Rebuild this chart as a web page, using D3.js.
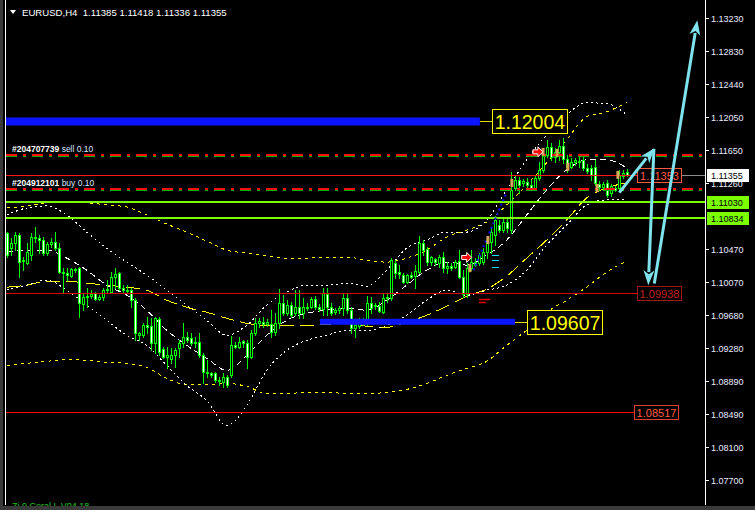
<!DOCTYPE html>
<html><head><meta charset="utf-8">
<script src="https://cdn.jsdelivr.net/npm/d3@7"></script>
<style>html,body{margin:0;padding:0;background:#000;overflow:hidden}</style>
</head><body>
<svg id="c" width="755" height="510"></svg>
<script>
// ---------------- DATA ----------------
const symbolTitle = "EURUSD,H4";
const headerValues = ["1.11385", "1.11418", "1.11336", "1.11355"];
const indicatorName = "Zi 9 Coral L V04.18";

// candles: [open, high, low, close]
const ohlc = [
[1.10656,1.10668,1.10368,1.10392],[1.10476,1.10596,1.10392,1.10536],[1.10536,1.10668,1.10452,1.10632],[1.10632,1.10656,1.10128,1.10308],
[1.10320,1.10368,1.10212,1.10332],[1.10296,1.10536,1.10284,1.10428],[1.10392,1.10656,1.10332,1.10608],[1.10608,1.10728,1.10548,1.10596],
[1.10596,1.10632,1.10416,1.10572],[1.10572,1.10608,1.10392,1.10416],[1.10416,1.10548,1.10392,1.10524],[1.10524,1.10596,1.10488,1.10548],
[1.10548,1.10668,1.10452,1.10476],[1.10476,1.10536,1.10176,1.10188],[1.10188,1.10236,1.09948,1.10176],[1.10176,1.10236,1.10092,1.10152],
[1.10140,1.10236,1.10128,1.10224],[1.10224,1.10236,1.10188,1.10212],[1.10236,1.10248,1.09648,1.09816],[1.09804,1.09936,1.09732,1.09888],
[1.09888,1.09996,1.09768,1.09900],[1.09900,1.09972,1.09876,1.09924],[1.09936,1.09948,1.09852,1.09864],[1.09864,1.09912,1.09852,1.09888],
[1.09888,1.09996,1.09852,1.09972],[1.09972,1.10092,1.09936,1.09984],[1.09948,1.10188,1.09936,1.10128],[1.10128,1.10236,1.09996,1.10164],
[1.10176,1.10188,1.09972,1.09996],[1.09996,1.10032,1.09948,1.09972],[1.09972,1.10032,1.09936,1.09960],[1.09972,1.09996,1.09768,1.09852],
[1.09852,1.09876,1.09372,1.09456],[1.09432,1.09468,1.09372,1.09456],[1.09432,1.09576,1.09408,1.09552],[1.09552,1.09648,1.09456,1.09528],
[1.09540,1.09636,1.09252,1.09336],[1.09336,1.09648,1.09216,1.09636],[1.09624,1.09648,1.09192,1.09228],[1.09264,1.09288,1.09156,1.09168],
[1.09168,1.09288,1.09036,1.09192],[1.09144,1.09276,1.09096,1.09192],[1.09192,1.09276,1.09048,1.09252],[1.09276,1.09372,1.09168,1.09336],
[1.09336,1.09576,1.09288,1.09408],[1.09408,1.09468,1.09348,1.09372],[1.09396,1.09456,1.09312,1.09336],[1.09336,1.09408,1.09288,1.09348],
[1.09348,1.09456,1.09168,1.09192],[1.09192,1.09216,1.08856,1.08988],[1.08988,1.09132,1.08928,1.08976],[1.08976,1.08988,1.08928,1.08952],
[1.08976,1.08988,1.08868,1.08892],[1.08892,1.08928,1.08832,1.08880],[1.08868,1.08976,1.08808,1.08928],[1.08928,1.08952,1.08808,1.08832],
[1.08952,1.09420,1.08928,1.09312],[1.09312,1.09348,1.09276,1.09288],[1.09288,1.09408,1.09276,1.09348],[1.09360,1.09372,1.09288,1.09336],
[1.09336,1.09372,1.09036,1.09168],[1.09168,1.09492,1.09156,1.09456],[1.09456,1.09636,1.09432,1.09576],[1.09576,1.09636,1.09528,1.09600],
[1.09588,1.09648,1.09528,1.09564],[1.09564,1.09624,1.09540,1.09588],[1.09564,1.09732,1.09408,1.09468],[1.09468,1.09696,1.09432,1.09576],
[1.09576,1.09984,1.09516,1.09816],[1.09816,1.09912,1.09672,1.09696],[1.09696,1.09852,1.09672,1.09792],[1.09792,1.09828,1.09648,1.09672],
[1.09696,1.09972,1.09672,1.09768],[1.09768,1.09972,1.09636,1.09696],[1.09696,1.09876,1.09636,1.09768],[1.09768,1.09816,1.09732,1.09756],
[1.09768,1.09888,1.09756,1.09864],[1.09864,1.09900,1.09744,1.09768],[1.09768,1.09804,1.09720,1.09744],[1.09744,1.09996,1.09672,1.09936],
[1.09924,1.09996,1.09672,1.09768],[1.09768,1.09816,1.09672,1.09696],[1.09708,1.09756,1.09684,1.09732],[1.09732,1.09780,1.09696,1.09756],
[1.09756,1.09936,1.09672,1.09876],[1.09876,1.09936,1.09696,1.09732],[1.09732,1.09768,1.09456,1.09516],[1.09516,1.09612,1.09408,1.09552],
[1.09540,1.09636,1.09516,1.09612],[1.09600,1.09636,1.09552,1.09588],[1.09576,1.09900,1.09552,1.09816],[1.09816,1.09888,1.09696,1.09756],
[1.09780,1.09816,1.09744,1.09792],[1.09780,1.09828,1.09708,1.09720],[1.09708,1.09924,1.09696,1.09876],[1.09876,1.09924,1.09828,1.09888],
[1.09876,1.10356,1.09852,1.10332],[1.10296,1.10332,1.10116,1.10176],[1.10188,1.10272,1.10116,1.10164],[1.10152,1.10176,1.10056,1.10068],
[1.10068,1.10164,1.10056,1.10152],[1.10152,1.10188,1.10116,1.10128],[1.10140,1.10272,1.09996,1.10200],[1.10188,1.10620,1.10176,1.10536],
[1.10536,1.10572,1.10392,1.10452],[1.10464,1.10488,1.10272,1.10308],[1.10308,1.10380,1.10272,1.10368],[1.10344,1.10356,1.10272,1.10308],
[1.10296,1.10392,1.10248,1.10368],[1.10368,1.10428,1.10188,1.10236],[1.10236,1.10308,1.10176,1.10260],[1.10260,1.10296,1.10212,1.10236],
[1.10248,1.10332,1.10236,1.10308],[1.10320,1.10452,1.10116,1.10128],[1.10128,1.10212,1.09888,1.09924],[1.09924,1.10296,1.09888,1.10236],
[1.10236,1.10452,1.10212,1.10308],[1.10308,1.10356,1.10260,1.10272],[1.10296,1.10416,1.10272,1.10392],[1.10308,1.10476,1.10284,1.10428],
[1.10428,1.10620,1.10356,1.10572],[1.10548,1.10716,1.10416,1.10668],[1.10632,1.10860,1.10512,1.10812],[1.10752,1.10812,1.10668,1.10692],
[1.10692,1.10836,1.10668,1.10788],[1.10788,1.10836,1.10668,1.10716],[1.10692,1.11388,1.10656,1.11172],[1.11196,1.11340,1.11172,1.11292],
[1.11292,1.11328,1.11136,1.11232],[1.11256,1.11304,1.11220,1.11280],[1.11268,1.11316,1.11208,1.11232],[1.11232,1.11292,1.11172,1.11196],
[1.11196,1.11352,1.11172,1.11316],[1.11316,1.11508,1.11292,1.11412],[1.11412,1.11628,1.11388,1.11592],[1.11592,1.11772,1.11568,1.11688],
[1.11688,1.11736,1.11532,1.11568],[1.11568,1.11676,1.11508,1.11628],[1.11628,1.11772,1.11532,1.11700],[1.11700,1.11796,1.11496,1.11544],
[1.11544,1.11592,1.11388,1.11448],[1.11448,1.11556,1.11436,1.11508],[1.11508,1.11556,1.11472,1.11532],[1.11520,1.11568,1.11448,1.11508],
[1.11532,1.11568,1.11412,1.11436],[1.11436,1.11484,1.11376,1.11400],[1.11436,1.11472,1.11292,1.11352],[1.11448,1.11532,1.11232,1.11256],
[1.11244,1.11280,1.11172,1.11208],[1.11208,1.11268,1.11172,1.11244],[1.11256,1.11292,1.11088,1.11112],[1.11136,1.11244,1.11100,1.11220],
[1.11196,1.11220,1.11160,1.11172],[1.11196,1.11412,1.11172,1.11352],[1.11340,1.11412,1.11316,1.11376],[1.11385,1.11418,1.11336,1.11355]
];

// band sample positions (bar index) and values
const bandIndex = [0,5,10,15,20,25,30,35,40,45,50,55,60,65,70,75,80,85,90,95,100,105,110,115,120,125,130,135,140,145,150,155];
const yellowUpper = [1.10956,1.10980,1.11016,1.11016,1.11016,1.10992,1.10968,1.10872,1.10764,1.10668,1.10560,1.10452,1.10416,1.10380,1.10356,1.10356,1.10368,1.10368,1.10332,1.10308,1.10356,1.10452,1.10608,1.10692,1.10788,1.10992,1.11232,1.11496,1.11772,1.12048,1.12108,1.12216];
const yellowMid   = [1.10008,1.10032,1.10080,1.10080,1.10056,1.10032,1.10008,1.09972,1.09852,1.09768,1.09708,1.09636,1.09576,1.09552,1.09552,1.09552,1.09564,1.09576,1.09540,1.09528,1.09588,1.09672,1.09780,1.09900,1.09984,1.10140,1.10356,1.10572,1.10812,1.11076,1.11196,1.11256];
const yellowLower = [1.09072,1.09096,1.09120,1.09144,1.09132,1.09108,1.09096,1.09048,1.08916,1.08844,1.08844,1.08856,1.08820,1.08736,1.08736,1.08748,1.08748,1.08736,1.08736,1.08748,1.08784,1.08856,1.08952,1.09036,1.09120,1.09312,1.09492,1.09708,1.09852,1.10008,1.10188,1.10320];
const whiteUpper  = [1.10872,1.10956,1.10980,1.10872,1.10668,1.10476,1.10308,1.10152,1.09972,1.09792,1.09612,1.09432,1.09552,1.09792,1.09948,1.10032,1.10032,1.10056,1.10020,1.10212,1.10476,1.10572,1.10668,1.10668,1.10812,1.11172,1.11532,1.11832,1.12072,1.12216,1.12204,1.12072];
const whiteMid    = [1.10428,1.10452,1.10452,1.10356,1.10212,1.10032,1.09912,1.09732,1.09492,1.09312,1.09156,1.09012,1.09192,1.09432,1.09612,1.09696,1.09732,1.09756,1.09732,1.09852,1.10032,1.10212,1.10308,1.10272,1.10392,1.10572,1.10872,1.11172,1.11412,1.11532,1.11532,1.11436];
const whiteLower  = [1.09972,1.10032,1.10092,1.09972,1.09792,1.09612,1.09432,1.09312,1.09072,1.08832,1.08652,1.08352,1.08592,1.09012,1.09252,1.09372,1.09432,1.09492,1.09492,1.09552,1.09672,1.09852,1.09972,1.09912,1.09972,1.10032,1.10212,1.10512,1.10752,1.10992,1.11052,1.11052];

// price axis ticks (visible ones)
const priceTicks = ["1.13230","1.12830","1.12440","1.12050","1.11650","1.11260","1.10470","1.10070","1.09680","1.09280","1.08890","1.08490","1.08100","1.07700"];

// order lines
const orderLabels = ["#204707739", "#204912101"];
const orderSides  = ["sell 0.10", "buy 0.10"];
const orderPrices = [1.11586, 1.11178];

// horizontal price levels
const greenLevels = [1.11030, 1.10834];
const redLevels   = [1.11353, 1.09938, 1.08517];
const currentPrice = 1.11355;
// thick blue zones: [startIndex, endIndex, price]
const blueZones = [[-2, 118.3, 1.12004], [78.3, 127.1, 1.09607]];

// cyan projection arrows: [fromIndex, fromPrice, toIndex, toPrice]
const arrows = [[153.15,1.11140,161.9,1.11672],[161.8,1.11664,160.4,1.10032],[161.9,1.10052,172.65,1.13204]];

// trade markers
const sellArrows = [[132.8,1.11628],[115.0,1.10364]];
const closeMarks = [[126.3,1.11256],[120.3,1.10572],[115.8,1.10236],[134.1,1.11628],[137.6,1.11616],[140.3,1.11448],[147.6,1.11196],[152.8,1.11352]];
const tradePath = [[116.7,1.10212],[124.9,1.11136]];
const cyanTicks = [[121.3,1.10392],[121.3,1.10332],[121.3,1.10248]];
const redTicks = [[118.1,120.8,1.09864],[118.1,119.8,1.09828]];

// ---------------- DRAW ----------------
const W = 755, H = 510;
const svg = d3.select('#c');
const x = d3.scaleLinear().domain([0, 155]).range([6.7, 626.7]);
const y = d3.scaleLinear().domain([1.13230, 1.07700]).range([18, 480]);
const PL = 6, PR = 705, PB = 505;
const font = "'Liberation Sans', Arial, sans-serif";
const snap = v => Math.round(v) + 0.5;

svg.append('rect').attr('width', W).attr('height', H).attr('fill', '#000');

const defs = svg.append('defs');
defs.append('clipPath').attr('id', 'plot').append('rect').attr('x', PL).attr('y', 0).attr('width', PR - PL).attr('height', PB);

const g = svg.append('g').attr('clip-path', 'url(#plot)');

// bands
function band(vals, color, dash) {
  const line = d3.line().x((d, k) => x(bandIndex[k])).y(d => y(d)).curve(d3.curveMonotoneX);
  g.append('path').attr('d', line(vals)).attr('fill', 'none').attr('stroke', color)
    .attr('stroke-width', 1).attr('stroke-dasharray', dash).attr('shape-rendering', 'crispEdges');
}
band(yellowUpper, '#ffff00', '3,4');
band(yellowLower, '#ffff00', '3,4');
band(yellowMid, '#ffff00', '14,6');
band(whiteUpper, '#ffffff', '2,3');
band(whiteLower, '#ffffff', '2,3');
band(whiteMid, '#ffffff', '6,4');

// candles
const cg = g.append('g').attr('shape-rendering', 'crispEdges');
ohlc.forEach((d, i) => {
  const [o, h, l, c] = d;
  const cx = Math.round(x(i));
  cg.append('line').attr('x1', cx + 0.5).attr('x2', cx + 0.5).attr('y1', Math.round(y(h))).attr('y2', Math.round(y(l)) + 1)
    .attr('stroke', '#00ff00');
  const top = Math.round(y(Math.max(o, c))), bot = Math.round(y(Math.min(o, c)));
  cg.append('rect').attr('x', cx - 0.5).attr('y', top + 0.5).attr('width', 2).attr('height', Math.max(bot - top, 0.01))
    .attr('fill', c < o ? '#ffffff' : '#000000').attr('stroke', '#00ff00').attr('stroke-width', 1);
});

// red level lines
const redColors = ['#ff1a1a', '#dd0000', '#ff0000'];
const redEnds = [637, 637, 634];
redLevels.forEach((p, k) => {
  g.append('line').attr('x1', PL).attr('x2', redEnds[k]).attr('y1', snap(y(p))).attr('y2', snap(y(p)))
    .attr('stroke', redColors[k]).attr('shape-rendering', 'crispEdges');
});
// bid line segment
g.append('line').attr('x1', 681).attr('x2', PR).attr('y1', snap(y(currentPrice))).attr('y2', snap(y(currentPrice)))
  .attr('stroke', '#8c8c8c').attr('shape-rendering', 'crispEdges');

// order lines (dash-dot: red 2px over green 1px)
orderPrices.forEach((p, k) => {
  const Y = Math.round(y(p));
  g.append('line').attr('x1', PL).attr('x2', PR).attr('y1', Y + 1.5).attr('y2', Y + 1.5)
    .attr('stroke', '#00b400').attr('stroke-dasharray', '11,6,3,6').attr('shape-rendering', 'crispEdges');
  g.append('line').attr('x1', PL).attr('x2', PR).attr('y1', Y).attr('y2', Y).attr('stroke-width', 2)
    .attr('stroke', '#ff1010').attr('stroke-dasharray', '11,6,3,6').attr('shape-rendering', 'crispEdges');
  const t = svg.append('text').attr('x', 12).attr('y', Y - 3).attr('font-family', font).attr('font-size', 8.5).attr('fill', '#ffffff');
  t.append('tspan').attr('font-weight', 'bold').text(orderLabels[k] + ' ');
  t.append('tspan').attr('fill', '#d8e4ff').text(orderSides[k]);
});

// green levels
greenLevels.forEach(p => {
  g.append('line').attr('x1', PL).attr('x2', PR).attr('y1', y(p)).attr('y2', y(p))
    .attr('stroke', '#7cfc00').attr('stroke-width', 2).attr('shape-rendering', 'crispEdges');
});

// trade path & markers
g.append('line').attr('x1', x(tradePath[0][0])).attr('y1', y(tradePath[0][1])).attr('x2', x(tradePath[1][0])).attr('y2', y(tradePath[1][1]))
  .attr('stroke', '#0000ff').attr('stroke-width', 2).attr('stroke-dasharray', '2,3');
cyanTicks.forEach(d => {
  g.append('line').attr('x1', x(d[0])).attr('x2', x(d[0]) + 7).attr('y1', snap(y(d[1]))).attr('y2', snap(y(d[1])))
    .attr('stroke', '#00e0ff').attr('shape-rendering', 'crispEdges');
});
redTicks.forEach(d => {
  g.append('line').attr('x1', x(d[0])).attr('x2', x(d[1])).attr('y1', snap(y(d[2]))).attr('y2', snap(y(d[2])))
    .attr('stroke', '#e00000').attr('stroke-width', 1.5);
});
closeMarks.forEach(d => {
  g.append('rect').attr('x', x(d[0]) - 1.5).attr('y', y(d[1]) - 4).attr('width', 3).attr('height', 8).attr('fill', '#d9a35a');
});
sellArrows.forEach(d => {
  const cx = x(d[0]), cy = y(d[1]);
  g.append('path').attr('d', `M${cx - 5},${cy - 2}L${cx},${cy - 2}L${cx},${cy - 5}L${cx + 5},${cy}L${cx},${cy + 5}L${cx},${cy + 2}L${cx - 5},${cy + 2}Z`)
    .attr('fill', '#ff0000').attr('stroke', '#ffffff').attr('stroke-width', 1);
});

// blue zones with labels
blueZones.forEach((z, k) => {
  const yy = y(z[2]);
  g.append('line').attr('x1', x(z[0])).attr('x2', x(z[1])).attr('y1', yy + 1).attr('y2', yy + 1)
    .attr('stroke', '#0a14ff').attr('stroke-width', k === 0 ? 8 : 6);
  const lx = x(z[1]) + 12;
  const cy = Math.round(yy) + 1;
  svg.append('line').attr('x1', x(z[1])).attr('x2', lx).attr('y1', cy + 0.5).attr('y2', cy + 0.5).attr('stroke', '#e0e000')
    .attr('shape-rendering', 'crispEdges');
  svg.append('rect').attr('x', lx + 0.5).attr('y', cy - 11.5).attr('width', 75).attr('height', 24)
    .attr('fill', '#000').attr('stroke', '#ffff00').attr('stroke-width', 1).attr('shape-rendering', 'crispEdges');
  svg.append('text').attr('x', lx + 38).attr('y', cy + 7.5).attr('text-anchor', 'middle')
    .attr('font-family', font).attr('font-size', 19.5).attr('fill', '#ffff00').text(z[2].toFixed(5));
});

// small price labels for red lines
const redLabelStyle = [{t: '#ff5a40', b: '#ff5a40'}, {t: '#c02020', b: '#a01818'}, {t: '#ff5a40', b: '#e04030'}];
redLevels.forEach((p, k) => {
  const yy = Math.round(y(p));
  const lx = redEnds[k];
  svg.append('rect').attr('x', lx + 0.5).attr('y', yy - 6.5).attr('width', 44).attr('height', 14).attr('fill', '#000')
    .attr('stroke', redLabelStyle[k].b).attr('shape-rendering', 'crispEdges');
  svg.append('text').attr('x', lx + 22.5).attr('y', yy + 4.5).attr('text-anchor', 'middle').attr('font-family', font)
    .attr('font-size', 11).attr('fill', redLabelStyle[k].t).text(p.toFixed(5));
});

// cyan arrows
arrows.forEach(a => {
  const x0 = x(a[0]), y0 = y(a[1]), x1 = x(a[2]), y1 = y(a[3]);
  const dx = x1 - x0, dy = y1 - y0, len = Math.hypot(dx, dy), ux = dx / len, uy = dy / len;
  const hl = 15, hw = 5.5;
  const bx = x1 - ux * hl, by = y1 - uy * hl;
  svg.append('line').attr('x1', x0).attr('y1', y0).attr('x2', bx + ux * 2).attr('y2', by + uy * 2)
    .attr('stroke', '#7fe3ee').attr('stroke-width', 3);
  svg.append('path').attr('d', `M${x1},${y1}L${bx - uy * hw},${by + ux * hw}L${bx + ux * 4},${by + uy * 4}L${bx + uy * hw},${by - ux * hw}Z`)
    .attr('fill', '#7fe3ee');
});

// frame
svg.append('rect').attr('x', 0).attr('y', 0).attr('width', 3).attr('height', H).attr('fill', '#3a3a3a');
svg.append('line').attr('x1', 5.5).attr('x2', 5.5).attr('y1', 0).attr('y2', PB).attr('stroke', '#ffffff').attr('shape-rendering', 'crispEdges');
svg.append('line').attr('x1', PR + 0.5).attr('x2', PR + 0.5).attr('y1', 0).attr('y2', PB).attr('stroke', '#ffffff').attr('shape-rendering', 'crispEdges');

// price axis
const axisG = svg.append('g');
priceTicks.forEach(t => {
  const yy = Math.round(y(+t));
  axisG.append('line').attr('x1', PR).attr('x2', PR + 4).attr('y1', yy + 0.5).attr('y2', yy + 0.5).attr('stroke', '#ffffff').attr('shape-rendering', 'crispEdges');
  axisG.append('text').attr('x', 711).attr('y', yy + 3.5).attr('font-family', font).attr('font-size', 9).attr('fill', '#e8ecff').text(t);
});
function axisBox(p, fill, txt) {
  const yy = Math.round(y(p));
  axisG.append('rect').attr('x', 707).attr('y', yy - 6).attr('width', 42).attr('height', 13).attr('fill', fill);
  axisG.append('text').attr('x', 711).attr('y', yy + 4).attr('font-family', font).attr('font-size', 9).attr('fill', txt).text(p.toFixed(5));
}
axisBox(currentPrice, '#ffffff', '#000000');
greenLevels.forEach(p => axisBox(p, '#7cfc00', '#000000'));

// header
svg.append('path').attr('d', 'M10,10L16,10L13,14Z').attr('fill', '#ffffff');
svg.append('text').attr('x', 22).attr('y', 16).attr('font-family', font).attr('font-size', 9.6).attr('fill', '#ffffff')
  .attr('xml:space', 'preserve').text(symbolTitle + '  ' + headerValues.join(' '));

// indicator name (partly hidden by bottom strip, as in the terminal)
svg.append('text').attr('x', 12).attr('y', 509).attr('font-family', font).attr('font-size', 9).attr('fill', '#20c020').text(indicatorName);
svg.append('rect').attr('x', 0).attr('y', 506).attr('width', W).attr('height', 4).attr('fill', '#3a3a3a');
</script>
</body></html>
